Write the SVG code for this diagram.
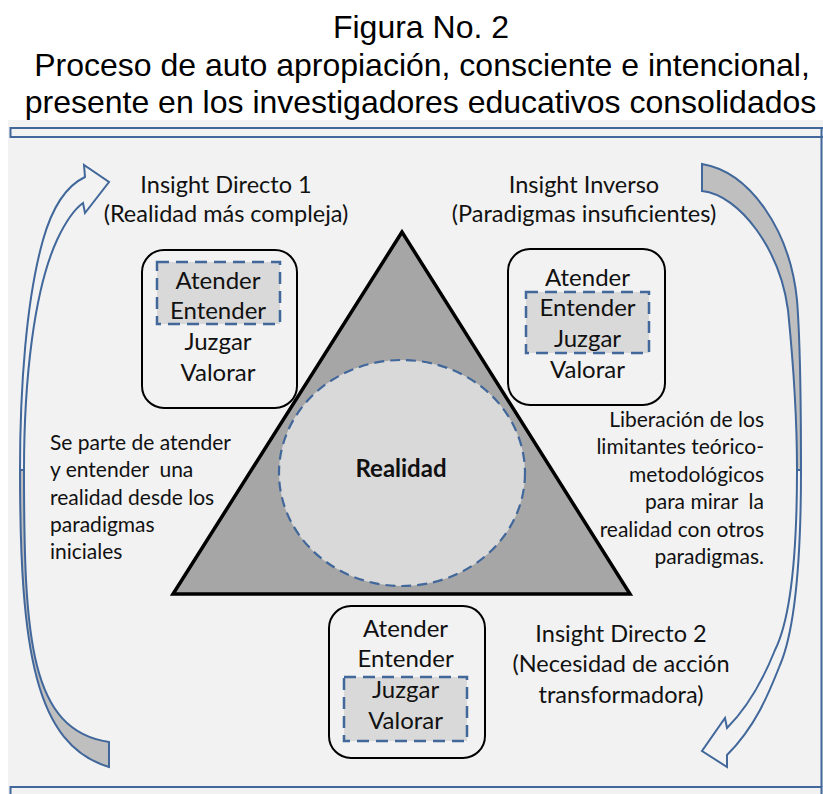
<svg xmlns="http://www.w3.org/2000/svg" width="823" height="794" viewBox="0 0 823 794">
<defs>
<style>
.title{font-family:"Liberation Sans",Arial,sans-serif;font-size:32px;fill:#000;text-anchor:middle}
.t{font-family:Lato,"Open Sans",sans-serif;font-size:23.5px;fill:#111;text-anchor:middle}
.b{font-family:Lato,"Open Sans",sans-serif;font-size:24px;fill:#111;text-anchor:middle}
.p{font-family:Lato,"Open Sans",sans-serif;font-size:21px;fill:#111}
.box{fill:none;stroke:#000;stroke-width:2}
.dash{fill:#d9d9d9;stroke:#41679b;stroke-width:2.5;stroke-dasharray:12 7}
.arr{stroke:#41679b;stroke-width:2;stroke-linejoin:miter}
.frame{fill:none;stroke:#41679b;stroke-width:2}
</style>
</defs>
<rect x="0" y="0" width="823" height="794" fill="#fff"/>
<rect x="8" y="120" width="815" height="674" fill="#f2f2f2"/>
<g id="frame">
<rect class="frame" x="10.5" y="128" width="830" height="9"/>
<rect class="frame" x="10.5" y="787" width="811" height="20"/>
<line class="frame" x1="821.5" y1="128" x2="821.5" y2="787"/>
</g>
<g id="title">
<text class="title" x="421" y="38">Figura No. 2</text>
<text class="title" x="422" y="76">Proceso de auto apropiación, consciente e intencional,</text>
<text class="title" x="420.5" y="113">presente en los investigadores educativos consolidados</text>
</g>
<g id="triangle">
<polygon points="402,232 173,594 630,594" fill="#a6a6a6" stroke="#000" stroke-width="3.5"/>
</g>
<g id="realidad">
<ellipse cx="402" cy="473" rx="123" ry="113" fill="#d9d9d9" stroke="#41679b" stroke-width="2.2" stroke-dasharray="10 6"/>
<text x="401" y="477" style="font-family:Lato,sans-serif;font-size:24px;font-weight:bold;fill:#111;text-anchor:middle">Realidad</text>
</g>
<g id="connectors">
<path class="arr" fill="#bfbfbf" d="M20,470 C20,650 35,745 109,767 L109,742 C30,730 24,640 24,470 Z"/>
<path class="arr" fill="#f2f2f2" d="M20,470 C20,390 26,300 43,240 C52,208 66,186 85,177 L84,165 L109,182 L85,213 L83,203 C72,211 64,225 57,240 C34,290 24,380 24,470 Z"/>
<path class="arr" fill="#bfbfbf" d="M702,164 C750,172 790,230 797,300 C801,350 801,420 801,470 L797,470 C797,420 793,360 788,310 C780,250 740,195 702,191 Z"/>
<path class="arr" fill="#f2f2f2" d="M801,470 C801,560 795,630 780,665 C770,690 757,725 727,755 L727,767 L702,751 L725,718 L727,728 C750,705 765,675 775,650 C790,620 797,560 797,470 Z"/>
</g>
<g id="insight1">
<text class="t" x="226" y="193">Insight Directo 1</text>
<text class="t" x="226" y="222">(Realidad más compleja)</text>
</g>
<g id="insightInverso">
<text class="t" x="584" y="193">Insight Inverso</text>
<text class="t" x="584" y="222">(Paradigmas insuficientes)</text>
</g>
<g id="insight2">
<text class="t" x="621" y="642">Insight Directo 2</text>
<text class="t" x="621" y="672">(Necesidad de acción</text>
<text class="t" x="621" y="703">transformadora)</text>
</g>
<g id="box1">
<rect class="box" x="142" y="250" width="155" height="158" rx="22"/>
<rect class="dash" x="157" y="262" width="123" height="62"/>
<text class="b" x="218" y="289">Atender</text>
<text class="b" x="218" y="319">Entender</text>
<text class="b" x="218" y="350">Juzgar</text>
<text class="b" x="218" y="381">Valorar</text>
</g>
<g id="box2">
<rect class="box" x="508" y="249" width="157" height="156" rx="22"/>
<rect class="dash" x="526" y="292" width="123" height="61"/>
<text class="b" x="587.5" y="286">Atender</text>
<text class="b" x="587.5" y="316">Entender</text>
<text class="b" x="587.5" y="347">Juzgar</text>
<text class="b" x="587.5" y="378">Valorar</text>
</g>
<g id="box3">
<rect class="box" x="329" y="606" width="156" height="152" rx="22"/>
<rect class="dash" x="344" y="677" width="123" height="64"/>
<text class="b" x="405.6" y="637">Atender</text>
<text class="b" x="405.6" y="667">Entender</text>
<text class="b" x="405.6" y="698">Juzgar</text>
<text class="b" x="405.6" y="729">Valorar</text>
</g>
<g id="leftText">
<text class="p" x="50" y="450" xml:space="preserve">Se parte de atender</text>
<text class="p" x="50" y="477" xml:space="preserve">y entender  una</text>
<text class="p" x="50" y="505" xml:space="preserve">realidad desde los</text>
<text class="p" x="50" y="532" xml:space="preserve">paradigmas</text>
<text class="p" x="50" y="559" xml:space="preserve">iniciales</text>
</g>
<g id="rightText">
<text class="p" x="764" y="427" text-anchor="end" xml:space="preserve">Liberación de los</text>
<text class="p" x="764" y="454" text-anchor="end" xml:space="preserve">limitantes teórico-</text>
<text class="p" x="764" y="482" text-anchor="end" xml:space="preserve">metodológicos</text>
<text class="p" x="764" y="509" text-anchor="end" xml:space="preserve">para mirar  la</text>
<text class="p" x="764" y="537" text-anchor="end" xml:space="preserve">realidad con otros</text>
<text class="p" x="764" y="564" text-anchor="end" xml:space="preserve">paradigmas.</text>
</g>
</svg>
